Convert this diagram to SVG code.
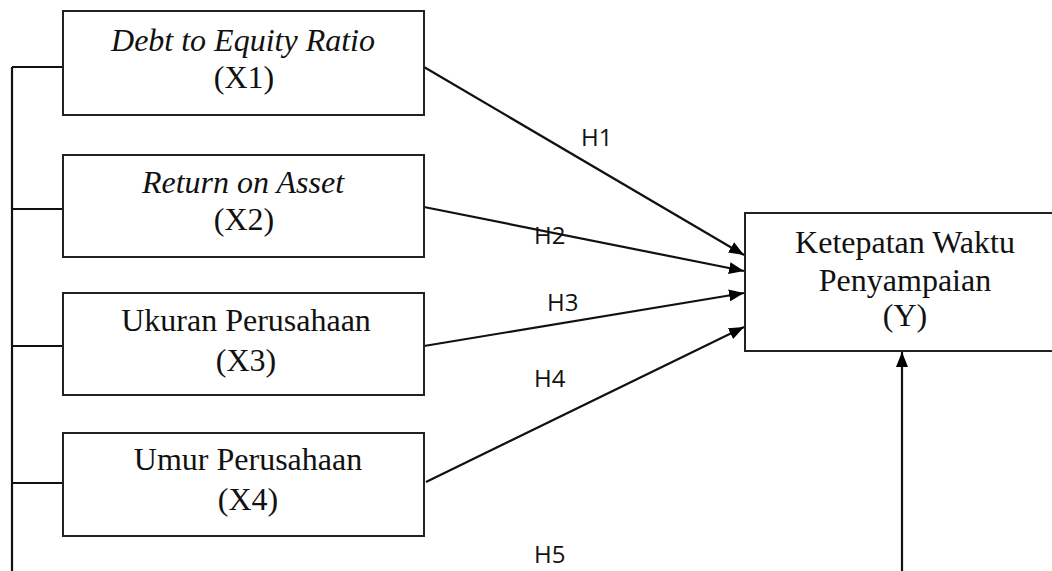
<svg xmlns="http://www.w3.org/2000/svg" width="1052" height="571" viewBox="0 0 1052 571">
<defs>
<marker id="arr" markerUnits="userSpaceOnUse" markerWidth="16" markerHeight="12" refX="15" refY="6" orient="auto">
<path d="M0,0 L15,6 L0,12 Z" fill="#000"/>
</marker>
<style>
.box{fill:#fff;stroke:#222;stroke-width:2}
.t{font-family:"Liberation Serif","Times New Roman",serif;font-size:32px;fill:#111;text-anchor:middle}
.i{font-style:italic}
.h{font-family:"Open Sans","Liberation Sans",sans-serif;font-size:24px;fill:#111}
.ln{stroke:#111;stroke-width:2.2;fill:none}
</style>
</defs>
<rect width="1052" height="571" fill="#fff"/>
<g id="connectors">
<path class="ln" d="M12,571 V67 M12,67 H63 M12,209 H63 M12,346 H63 M12,483 H63"/>
<line class="ln" x1="424" y1="67" x2="744" y2="255" marker-end="url(#arr)"/>
<line class="ln" x1="424" y1="207" x2="744" y2="271" marker-end="url(#arr)"/>
<line class="ln" x1="424" y1="346" x2="744" y2="293" marker-end="url(#arr)"/>
<line class="ln" x1="426" y1="482" x2="744" y2="327" marker-end="url(#arr)"/>
<line class="ln" x1="902" y1="571" x2="902" y2="352" marker-end="url(#arr)"/>
<text class="h" x="581" y="146">H1</text>
<text class="h" x="534" y="244">H2</text>
<text class="h" x="547" y="311">H3</text>
<text class="h" x="534" y="387">H4</text>
<text class="h" x="534" y="563">H5</text>
</g>
<g id="x1">
<rect class="box" x="63" y="11" width="361" height="104"/>
<text class="t i" x="243" y="51">Debt to Equity Ratio</text>
<text class="t" x="244" y="88">(X1)</text>
</g>
<g id="x2">
<rect class="box" x="63" y="155" width="361" height="102"/>
<text class="t i" x="243" y="193">Return on Asset</text>
<text class="t" x="244" y="230">(X2)</text>
</g>
<g id="x3">
<rect class="box" x="63" y="293" width="361" height="102"/>
<text class="t" x="246" y="331">Ukuran Perusahaan</text>
<text class="t" x="246" y="371">(X3)</text>
</g>
<g id="x4">
<rect class="box" x="63" y="433" width="361" height="103"/>
<text class="t" x="248" y="470">Umur Perusahaan</text>
<text class="t" x="248" y="510">(X4)</text>
</g>
<g id="y">
<rect class="box" x="745" y="213" width="320" height="138"/>
<text class="t" x="905" y="253">Ketepatan Waktu</text>
<text class="t" x="905" y="291">Penyampaian</text>
<text class="t" x="905" y="326">(Y)</text>
</g>
</svg>
